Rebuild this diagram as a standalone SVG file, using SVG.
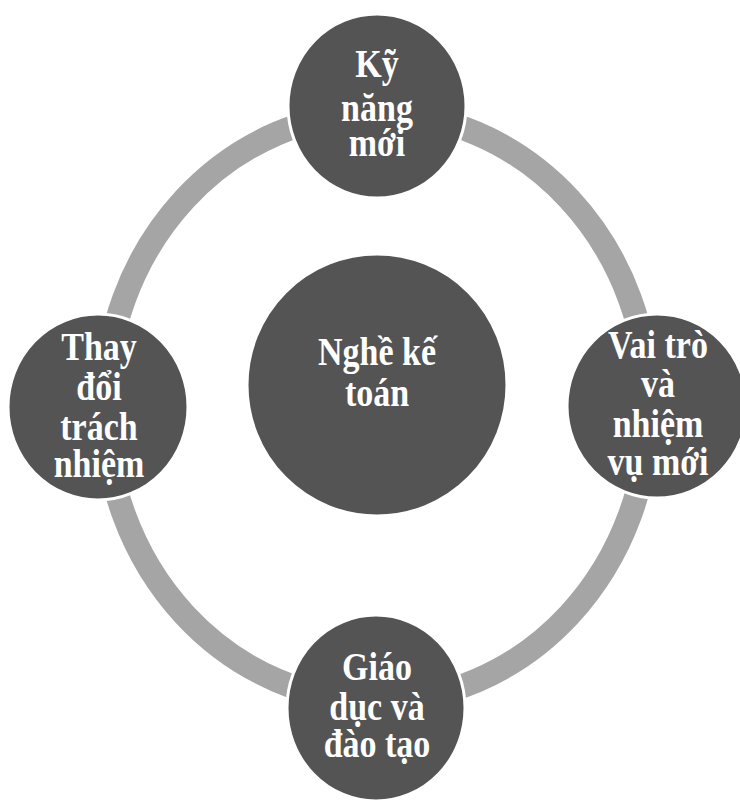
<svg xmlns="http://www.w3.org/2000/svg" width="740" height="801" viewBox="0 0 740 801">
<style>
.node{fill:#545454;stroke:#ffffff;stroke-width:3}
.ring{fill:none;stroke:#a5a5a5;stroke-width:24}
text{font-family:"Liberation Serif","Times New Roman",serif;font-weight:bold;font-size:34px;fill:#ffffff;text-anchor:middle}
</style>
<rect width="740" height="801" fill="#ffffff"/>
<g id="connectors">
<ellipse class="ring" cx="377" cy="407" rx="272" ry="294"/>
</g>
<g id="center">
<ellipse class="node" cx="377" cy="385" rx="130" ry="131"/>
<text transform="translate(377 365) scale(1 1.2)">Nghề kế</text>
<text transform="translate(377 406) scale(1 1.2)">toán</text>
</g>
<g id="top">
<ellipse class="node" cx="377" cy="106" rx="89" ry="92"/>
<text transform="translate(377 77) scale(1 1.2)">Kỹ</text>
<text transform="translate(377 121) scale(1 1.2)">năng</text>
<text transform="translate(377 156) scale(1 1.2)">mới</text>
</g>
<g id="right">
<ellipse class="node" cx="657" cy="406" rx="90" ry="92"/>
<text transform="translate(658 358) scale(1 1.2)">Vai trò</text>
<text transform="translate(658 397) scale(1 1.2)">và</text>
<text transform="translate(658 437) scale(1 1.2)">nhiệm</text>
<text transform="translate(658 475) scale(1 1.2)">vụ mới</text>
</g>
<g id="bottom">
<ellipse class="node" cx="376" cy="708" rx="89" ry="93"/>
<text transform="translate(377 680) scale(1 1.2)">Giáo</text>
<text transform="translate(377 720) scale(1 1.2)">dục và</text>
<text transform="translate(377 757) scale(1 1.2)">đào tạo</text>
</g>
<g id="left">
<ellipse class="node" cx="98" cy="407" rx="90" ry="93"/>
<text transform="translate(99 360) scale(1 1.2)">Thay</text>
<text transform="translate(99 400) scale(1 1.2)">đổi</text>
<text transform="translate(99 440) scale(1 1.2)">trách</text>
<text transform="translate(99 477) scale(1 1.2)">nhiệm</text>
</g>
</svg>
